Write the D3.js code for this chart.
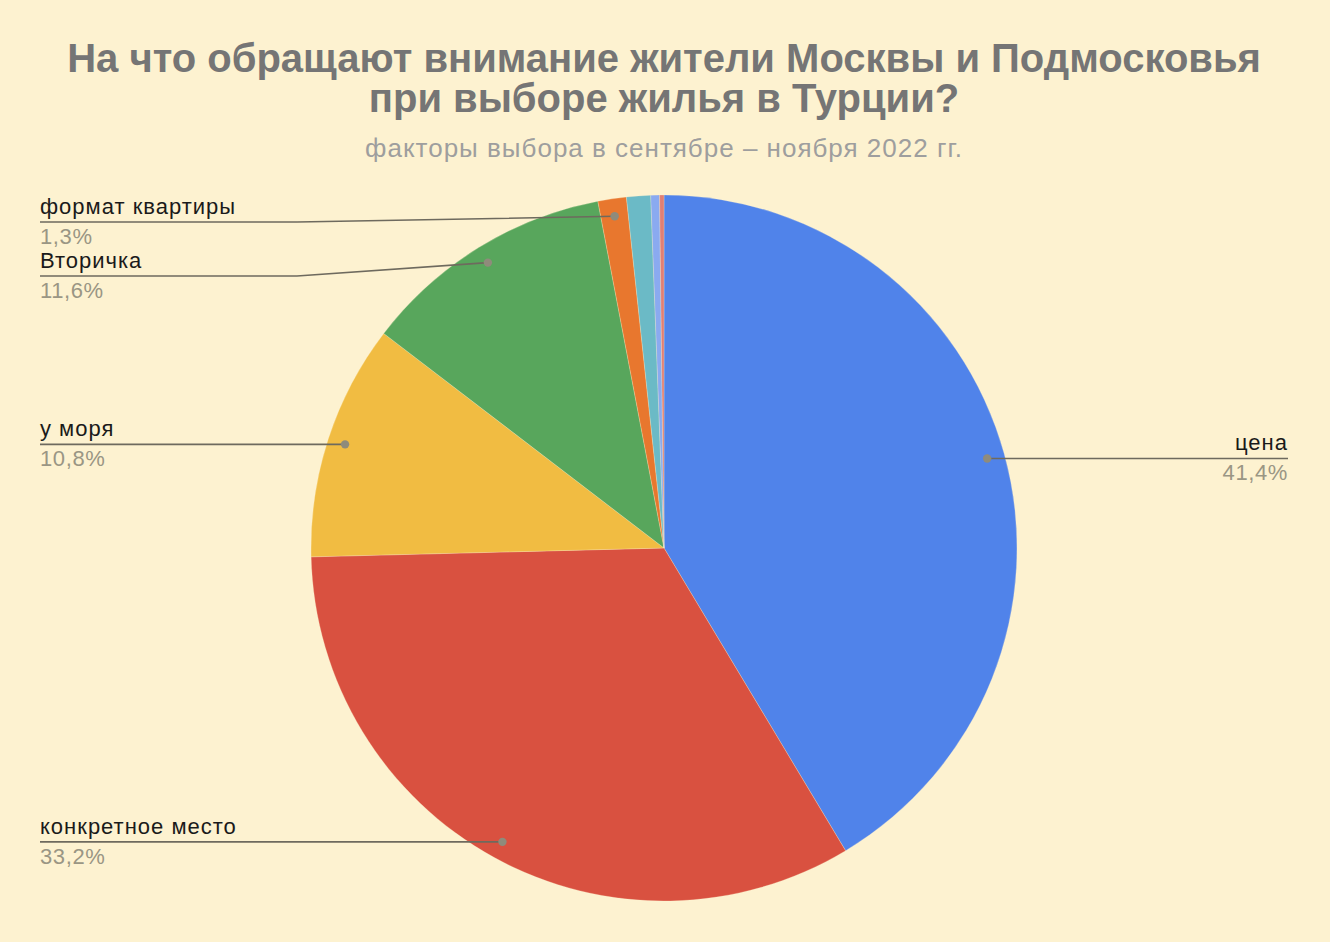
<!DOCTYPE html>
<html><head><meta charset="utf-8">
<script src="https://cdn.jsdelivr.net/npm/d3@7"></script>
<style>html,body{margin:0;padding:0;background:#fdf2d0;}svg{display:block;font-family:"Liberation Sans",Arial,sans-serif;}</style>
</head><body>
<script>
const categories = ["цена","конкретное место","у моря","Вторичка","формат квартиры","прочее 1","прочее 2","прочее 3"];
const values = [41.4, 33.2, 10.8, 11.6, 1.3, 1.1, 0.4, 0.2];
const valueLabels = ["41,4%","33,2%","10,8%","11,6%","1,3%","","",""];
const showLabel = [true,true,true,true,true,false,false,false];
const colors = ["#5083ea","#d95140","#f1bc42","#58a65c","#e8772e","#6bbac6","#8aaaf0","#e07f75"];
const titleLines = ["На что обращают внимание жители Москвы и Подмосковья","при выборе жилья в Турции?"];
const subtitle = "факторы выбора в сентябре – ноября 2022 гг.";

const W = 1330, H = 942, cx = 664, cy = 548, R = 353;
const svg = d3.select("body").append("svg").attr("width", W).attr("height", H);
svg.append("rect").attr("width", W).attr("height", H).attr("fill", "#fdf2d0");

svg.selectAll("text.title").data(titleLines).join("text").attr("class","title")
  .attr("x", cx).attr("y", (d,i) => 72 + i*40).attr("text-anchor","middle")
  .attr("font-size", 40).attr("font-weight","bold").attr("fill","#757575").text(d=>d);
svg.append("text").attr("x", cx).attr("y", 157).attr("text-anchor","middle")
  .attr("font-size", 26).attr("letter-spacing", 1.0).attr("fill","#9e9e9e").text(subtitle);

const data = categories.map((c,i)=>({name:c, value:values[i], lab:valueLabels[i], show:showLabel[i], color:colors[i]}));
const pie = d3.pie().value(d=>d.value).sort(null);
const arcs = pie(data);
const arc = d3.arc().innerRadius(0).outerRadius(R);
const g = svg.append("g").attr("transform", `translate(${cx},${cy})`);
g.selectAll("path").data(arcs).join("path").attr("d", arc).attr("fill", d=>d.data.color)
  .attr("stroke", "#fdf2d0").attr("stroke-width", 0.25);

// labels
const dotR = R*0.95;
const lab = arcs.filter(a=>a.data.show).map(a=>{
  const m = (a.startAngle+a.endAngle)/2;
  return {a, x: cx + dotR*Math.sin(m), y: cy - dotR*Math.cos(m), side: Math.sin(m) >= 0 ? "right" : "left"};
});
const left = lab.filter(l=>l.side==="left").sort((p,q)=>p.y-q.y);
let prev = 222 - 54;
left.forEach(l=>{ l.ly = Math.max(l.y, prev + 54); prev = l.ly; });
lab.filter(l=>l.side==="right").forEach(l=>{ l.ly = l.y; });

const lg = svg.append("g");
lab.forEach(l=>{
  let pts;
  if (l.side==="left") pts = [[40,l.ly],[297,l.ly],[l.x,l.y]];
  else pts = [[l.x,l.y],[1288,l.ly]];
  lg.append("path").attr("d", d3.line()(pts)).attr("fill","none").attr("stroke","#6e6a5e").attr("stroke-width",1.6);
  lg.append("circle").attr("cx", l.x).attr("cy", l.y).attr("r", 4.2).attr("fill","#8f8b7b");
  const tx = l.side==="left" ? 40 : 1288, anchor = l.side==="left" ? "start" : "end";
  lg.append("text").attr("x", tx).attr("y", l.ly-8).attr("text-anchor",anchor).attr("font-size",22)
    .attr("letter-spacing",1.0).attr("fill","#1a1a1a").text(l.a.data.name);
  lg.append("text").attr("x", tx).attr("y", l.ly+22).attr("text-anchor",anchor).attr("font-size",22)
    .attr("letter-spacing",0.6).attr("fill","#9a9684").text(l.a.data.lab);
});
</script>
</body></html>
